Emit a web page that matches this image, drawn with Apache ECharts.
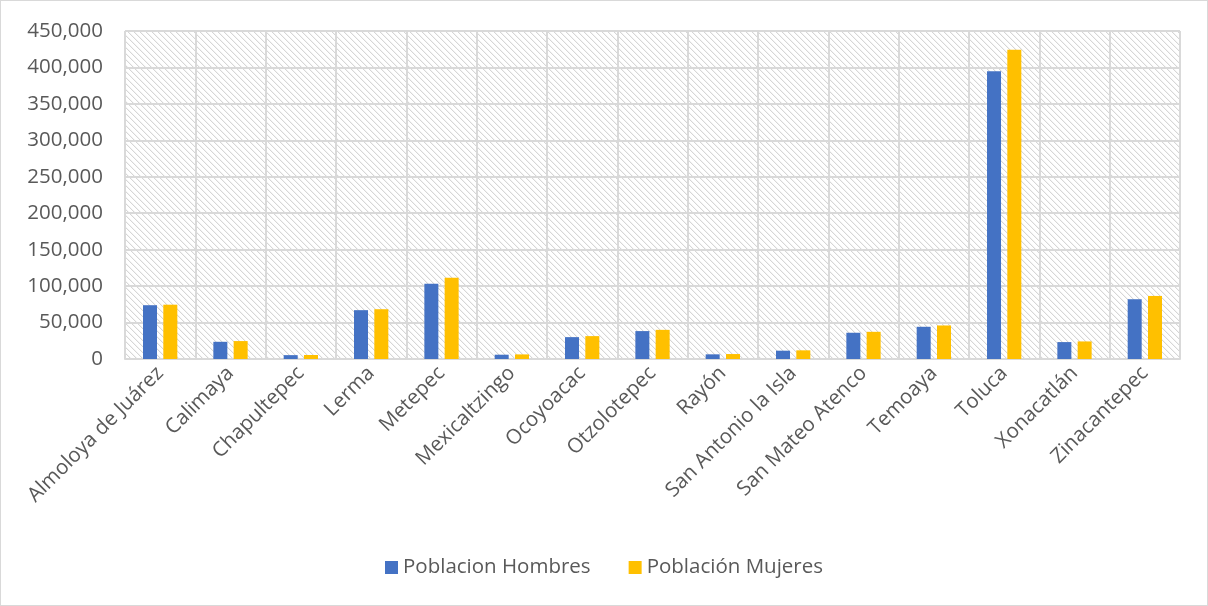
<!DOCTYPE html>
<html>
<head>
<meta charset="utf-8">
<script src="https://cdn.jsdelivr.net/npm/echarts@6/dist/echarts.min.js"></script>
<style>
  html, body { margin: 0; padding: 0; background: #fff; }
  #chart { width: 1208px; height: 606px; box-sizing: border-box; border: 1px solid #d9d9d9; }
</style>
</head>
<body>
<div id="chart"></div>
<script>
// datos
var municipios = ['Almoloya de Juárez', 'Calimaya', 'Chapultepec', 'Lerma', 'Metepec', 'Mexicaltzingo',
  'Ocoyoacac', 'Otzolotepec', 'Rayón', 'San Antonio la Isla', 'San Mateo Atenco', 'Temoaya',
  'Toluca', 'Xonacatlán', 'Zinacantepec'];
var hombres = [73800, 23600, 5300, 67000, 103400, 5900, 30000, 38300, 6400, 11400, 36000, 44200, 394800, 23200, 82000];
var mujeres = [74500, 24600, 5500, 68300, 111600, 6300, 31400, 40000, 6800, 11900, 37300, 46000, 424400, 24100, 86500];

// patron rayado del fondo (diagonal punteada)
function hatch() {
  var n = 6;
  var c = document.createElement('canvas');
  c.width = n; c.height = n;
  var ctx = c.getContext('2d');
  ctx.fillStyle = '#ffffff';
  ctx.fillRect(0, 0, n, n);
  for (var y = 0; y < n; y++) {
    for (var x = 0; x < n; x++) {
      var d = (x - y + n) % n;
      if (d === 0) { ctx.fillStyle = '#d6d6d6'; ctx.fillRect(x, y, 1, 1); }
      else if (d === 1) { ctx.fillStyle = '#f4f4f4'; ctx.fillRect(x, y, 1, 1); }
    }
  }
  return c;
}

var myChart = echarts.init(document.getElementById('chart'));
var font = '"Open Sans", sans-serif';
myChart.setOption({
  animation: false,
  grid: {
    left: 124, right: 27, top: 30, bottom: 246,
    show: true,
    backgroundColor: { image: hatch(), repeat: 'repeat' },
    borderWidth: 0
  },
  legend: {
    bottom: 22,
    itemWidth: 13, itemHeight: 13, itemGap: 38,
    icon: 'rect',
    textStyle: { color: '#595959', fontSize: 20.5, fontFamily: font },
    data: ['Poblacion Hombres', 'Población Mujeres']
  },
  xAxis: {
    type: 'category',
    data: municipios,
    axisLine: { lineStyle: { color: '#d9d9d9', width: 2 } },
    axisTick: { show: false },
    splitLine: { show: true, lineStyle: { color: '#d9d9d9', width: 2 } },
    axisLabel: { rotate: 45, interval: 0, color: '#595959', fontSize: 20.5, fontFamily: font, margin: 11 }
  },
  yAxis: {
    type: 'value',
    min: 0, max: 450000, interval: 50000,
    axisLine: { show: false },
    axisTick: { show: false },
    splitLine: { lineStyle: { color: '#d9d9d9', width: 2 } },
    axisLabel: {
      color: '#595959', fontSize: 20.5, fontFamily: font, margin: 22,
      formatter: function (v) { return v.toLocaleString('en-US'); }
    }
  },
  series: [
    { name: 'Poblacion Hombres', type: 'bar', data: hombres, barWidth: 14, barGap: '45%', itemStyle: { color: '#4472c4' } },
    { name: 'Población Mujeres', type: 'bar', data: mujeres, barWidth: 14, itemStyle: { color: '#ffc000' } }
  ]
});
</script>
</body>
</html>
